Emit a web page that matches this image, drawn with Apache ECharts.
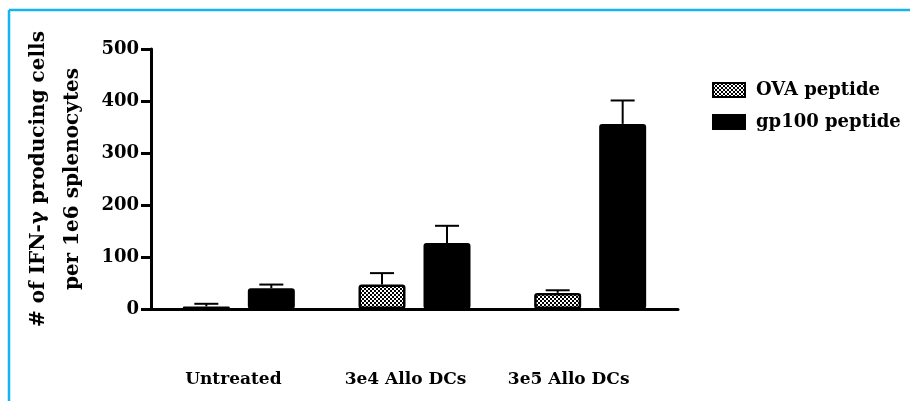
<!DOCTYPE html>
<html><head><meta charset="utf-8">
<script src="https://cdn.jsdelivr.net/npm/echarts@6/dist/echarts.min.js"></script>
<style>html,body{margin:0;padding:0;background:#fff}#c{width:910px;height:401px}</style>
</head><body><div id="c"></div>
<script>
const categories = ['Untreated', '3e4 Allo DCs', '3e5 Allo DCs'];
const ovaValues = [5, 47, 31];
const ovaErrors = [5, 22, 5];
const gp100Values = [40, 127, 356];
const gp100Errors = [7, 33, 45];
const yTicks = [0, 100, 200, 300, 400, 500];

const FONT = 'DejaVu Serif';
const chart = echarts.init(document.getElementById('c'), null, {renderer: 'canvas'});

// checkered pattern
const pc = document.createElement('canvas');
pc.width = 4; pc.height = 4;
const g = pc.getContext('2d');
g.fillStyle = '#fff'; g.fillRect(0, 0, 4, 4);
g.fillStyle = '#000'; g.fillRect(0, 0, 2, 2); g.fillRect(2, 2, 2, 2);
const checker = {image: pc, repeat: 'repeat'};

const BAR_W = 47, BAR_GAP = 18;
// per-label leftward shift of category labels (as in the original figure)
const labelShift = [11, 18, 43];

function errSeries(name, vals, errs, sign) {
  return {
    type: 'custom',
    name: name + ' err',
    z: 1,
    silent: true,
    data: vals.map((v, i) => [i, v, v + errs[i]]),
    renderItem: function (params, api) {
      const off = sign * (BAR_W + BAR_GAP) / 2;
      const lo = api.coord([api.value(0), api.value(1)]);
      const hi = api.coord([api.value(0), api.value(2)]);
      const x = lo[0] + off;
      const cap = 12;
      return {
        type: 'group',
        children: [
          {type: 'line', shape: {x1: x, y1: lo[1], x2: x, y2: hi[1]}, style: {stroke: '#000', lineWidth: 2}},
          {type: 'line', shape: {x1: x - cap, y1: hi[1], x2: x + cap, y2: hi[1]}, style: {stroke: '#000', lineWidth: 2}}
        ]
      };
    }
  };
}

const rich = {};
categories.forEach((c, i) => {
  rich['l' + i] = {fontFamily: FONT, fontWeight: 'bold', fontSize: 17, color: '#000', padding: [0, labelShift[i], 0, 0]};
});

chart.setOption({
  animation: false,
  grid: {left: 151, right: 232, top: 49, bottom: 92},
  legend: {
    orient: 'vertical', left: 707, top: 76, itemWidth: 32, itemHeight: 14, itemGap: 14,
    icon: 'rect',
    data: ['OVA peptide', 'gp100 peptide'],
    textStyle: {fontFamily: FONT, fontWeight: 'bold', fontSize: 18, color: '#000', padding: [0, 0, 0, 6]},
    itemStyle: {borderColor: '#000', borderWidth: 2}
  },
  xAxis: {
    type: 'category', data: categories,
    axisLine: {lineStyle: {color: '#000', width: 3}},
    axisTick: {alignWithLabel: true, length: 9, lineStyle: {color: '#000', width: 3}},
    axisLabel: {interval: 0, hideOverlap: false, margin: 62, fontFamily: FONT, fontWeight: 'bold', fontSize: 17, color: '#000',
      formatter: (v, i) => '{l' + i + '|' + v + '}', rich: rich}
  },
  yAxis: {
    type: 'value', min: 0, max: 500, interval: 100,
    name: '# of IFN-γ producing cells\nper 1e6 splenocytes',
    nameLocation: 'middle', nameRotate: 90, nameGap: 61,
    nameTextStyle: {fontFamily: FONT, fontWeight: 'bold', fontSize: 20, color: '#000', lineHeight: 34},
    splitLine: {show: false},
    axisLine: {show: true, lineStyle: {color: '#000', width: 3}},
    axisTick: {show: true, length: 10, lineStyle: {color: '#000', width: 3}},
    axisLabel: {margin: 12, fontFamily: FONT, fontWeight: 'bold', fontSize: 18, color: '#000',
      formatter: v => yTicks.includes(v) ? String(v) : ''}
  },
  series: [
    {type: 'bar', name: 'OVA peptide', data: ovaValues, barWidth: BAR_W, barGap: (BAR_GAP / BAR_W * 100) + '%', z: 2,
      itemStyle: {color: checker, borderColor: '#000', borderWidth: 2.5, borderRadius: 2}},
    {type: 'bar', name: 'gp100 peptide', data: gp100Values, barWidth: BAR_W, z: 2,
      itemStyle: {color: '#000', borderColor: '#000', borderWidth: 2, borderRadius: 2}},
    errSeries('OVA peptide', ovaValues, ovaErrors, -1),
    errSeries('gp100 peptide', gp100Values, gp100Errors, 1)
  ],
  graphic: [
    {type: 'line', shape: {x1: 9, y1: 10, x2: 910, y2: 10}, style: {stroke: '#14b4ee', lineWidth: 2.5}},
    {type: 'line', shape: {x1: 9, y1: 10, x2: 9, y2: 401}, style: {stroke: '#14b4ee', lineWidth: 2.5}}
  ]
});
</script></body></html>
